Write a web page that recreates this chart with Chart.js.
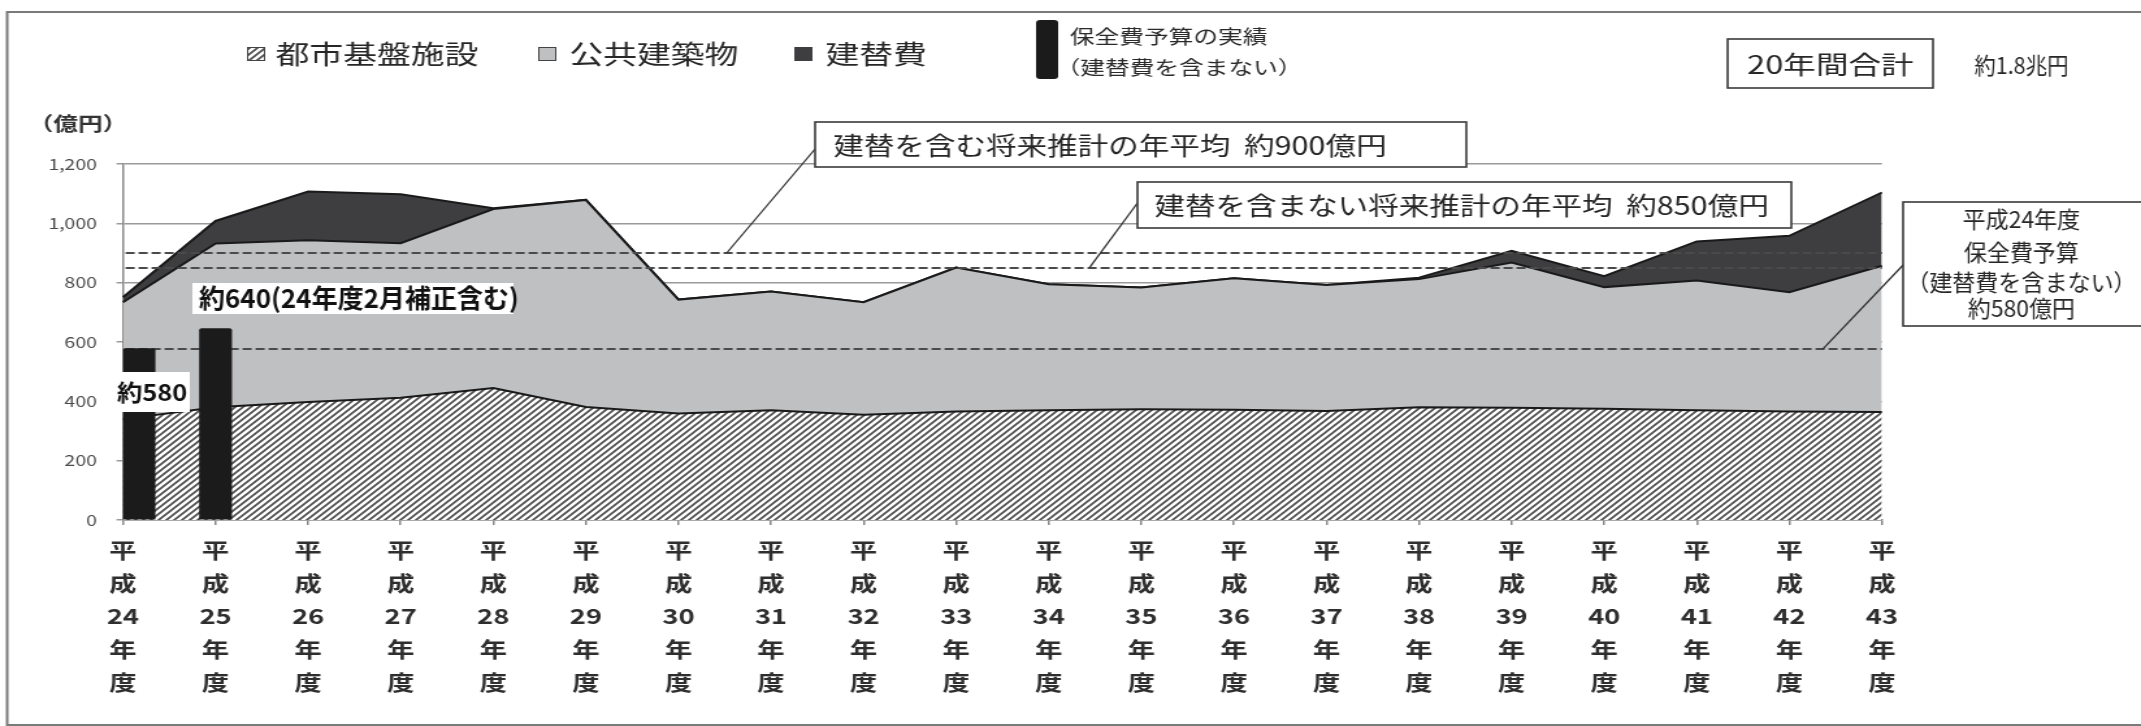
<!DOCTYPE html>
<html>
<head>
<meta charset="utf-8">
<script src="https://cdn.jsdelivr.net/npm/chart.js@4.4.1/dist/chart.umd.min.js"></script>
<style>
html,body{margin:0;padding:0;background:#fff;overflow:hidden}
canvas{display:block}
</style>
</head>
<body>
<canvas id="c" width="1647" height="726" style="width:2141px;height:726px"></canvas>
<script>
// ---- data ----
const categories = ['平成24年度','平成25年度','平成26年度','平成27年度','平成28年度','平成29年度','平成30年度','平成31年度','平成32年度','平成33年度',
                    '平成34年度','平成35年度','平成36年度','平成37年度','平成38年度','平成39年度','平成40年度','平成41年度','平成42年度','平成43年度'];
const seriesNames = ['都市基盤施設','公共建築物','建替費'];
const infrastructure   = [340, 380, 398, 412, 445, 381, 359, 370, 355, 366, 370, 373, 372, 367, 380, 378, 375, 370, 366, 364];
const publicBuildings  = [394, 552, 545, 521, 603, 698, 384, 400, 379, 485, 425, 411, 443, 425, 432, 490, 410, 437, 402, 493];
const replacement      = [17, 76, 164, 165, 3, 0, 0, 0, 0, 0, 0, 0, 0, 0, 5, 39, 37, 132, 190, 247];
const budgetActual     = [578, 645];          // 平成24年度, 平成25年度 実績
const budgetLabels     = ['約580', '約640(24年度2月補正含む)'];
const referenceLevels  = [900, 850, 575];     // 建替含む平均, 建替含まない平均, 24年度保全費予算
const yTickValues      = [0, 200, 400, 600, 800, 1000, 1200];

// ---- styles ----
const FONT = '"Noto Sans CJK JP", "Noto Sans", sans-serif';
const GRAY = '#bfc0c2';
const DARK = '#3e3e40';
const BAR  = '#1b1b1b';

const cv = document.getElementById('c');
const ctx0 = cv.getContext('2d');
const tile = document.createElement('canvas');
tile.width = 6; tile.height = 6;
(function(){
  const g = tile.getContext('2d');
  g.fillStyle = '#ffffff'; g.fillRect(0,0,6,6);
  g.strokeStyle = '#4d4d4d'; g.lineWidth = 1.7;
  g.beginPath();
  g.moveTo(0,6); g.lineTo(6,0);
  g.moveTo(-1,1); g.lineTo(1,-1);
  g.moveTo(5,7); g.lineTo(7,5);
  g.stroke();
})();
const hatch = ctx0.createPattern(tile, 'repeat');

function txt(c, s, x, y, o) {
  c.save();
  c.font = `${o.weight || 'normal'} ${o.size}px ${FONT}`;
  c.fillStyle = o.color || '#262626';
  c.textAlign = o.align || 'left';
  c.textBaseline = 'middle';
  c.translate(x, y);
  c.scale(o.sx || 1, o.sy || 1);
  c.fillText(s, 0, 0);
  c.restore();
}
function box(c, x, y, w, h) {
  c.save();
  c.fillStyle = '#fff';
  c.fillRect(x, y, w, h);
  c.strokeStyle = '#3a3a3a';
  c.lineWidth = 1.6;
  c.strokeRect(x, y, w, h);
  c.restore();
}

const annotations = {
  id: 'annotations',
  beforeDraw(chart) {
    this._dashed = false;
    const c = chart.ctx;
    c.save();
    c.strokeStyle = '#7a7a7a';
    c.lineWidth = 2;
    c.strokeRect(5.5, 12, 1700, 713);
    c.restore();
  },
  beforeDatasetDraw(chart, args) {
    if (args.meta.type !== 'bar' || this._dashed) return;
    this._dashed = true;
    const c = chart.ctx, a = chart.chartArea, y = chart.scales.y;
    c.save();
    c.strokeStyle = '#4a4a4a';
    c.lineWidth = 2;
    c.setLineDash([7, 3]);
    referenceLevels.forEach(v => {
      const py = Math.round(y.getPixelForValue(v));
      c.beginPath(); c.moveTo(a.left + 2, py); c.lineTo(a.right, py); c.stroke();
    });
    c.restore();
  },
  afterDraw(chart) {
    const c = chart.ctx, y = chart.scales.y;
    // leader lines
    c.save();
    c.strokeStyle = '#333'; c.lineWidth = 1.3;
    [[627,149,559,referenceLevels[0]],[875,203,838,referenceLevels[1]],[1464,265,1402,referenceLevels[2]]].forEach(([x1,y1,x2,v]) => {
      c.beginPath(); c.moveTo(x1,y1); c.lineTo(x2, y.getPixelForValue(v)); c.stroke();
    });
    c.restore();

    // callout boxes
    box(c, 627, 122, 501, 45);
    txt(c, '建替を含む将来推計の年平均  約900億円', 641, 145, {size: 25, sx: 0.94});
    box(c, 875, 182, 503, 46);
    txt(c, '建替を含まない将来推計の年平均  約850億円', 888, 205, {size: 25, sx: 0.94});
    box(c, 1464, 202, 200, 124);
    ['平成24年度', '保全費予算', '（建替費を含まない）', '約580億円'].forEach((s, i) => {
      txt(c, s, 1555, [219, 252, 282, 308][i], {size: 23, sx: 0.77, align: 'center'});
    });

    // bar value labels
    c.save(); c.fillStyle = '#fff';
    c.fillRect(148, 283, 247, 31);
    c.fillRect(88.5, 372, 57.5, 40);
    c.restore();
    txt(c, budgetLabels[1], 153, 298.5, {size: 26, weight: 'bold', sx: 0.77, color: '#111'});
    txt(c, budgetLabels[0], 117, 392, {size: 23, weight: 'bold', sx: 0.85, color: '#111', align: 'center'});

    // y-axis unit
    txt(c, '（億円）', 22, 124, {size: 19, weight: 'bold', color: '#333'});

    // legend
    c.save();
    c.fillStyle = hatch; c.fillRect(190, 47, 14, 14);
    c.strokeStyle = '#444'; c.lineWidth = 1; c.strokeRect(190.5, 47.5, 13, 13);
    c.fillStyle = GRAY; c.fillRect(414, 47, 14, 14); c.strokeRect(414.5, 47.5, 13, 13);
    c.fillStyle = DARK; c.fillRect(611, 47, 14, 14);
    c.fillStyle = BAR;
    c.beginPath(); c.roundRect(797, 20, 17, 59, 3); c.fill();
    c.restore();
    txt(c, seriesNames[0], 212, 54, {size: 26});
    txt(c, seriesNames[1], 438, 54, {size: 26});
    txt(c, seriesNames[2], 635, 54, {size: 26});
    txt(c, '保全費予算の実績', 823, 37, {size: 19, color: '#2a2a2a'});
    txt(c, '（建替費を含まない）', 812, 68, {size: 19, color: '#2a2a2a'});

    // total
    box(c, 1329, 39, 158, 49);
    txt(c, '20年間合計', 1408, 64, {size: 25, align: 'center'});
    txt(c, '約1.8兆円', 1555, 65, {size: 23, sx: 0.72, align: 'center'});
  }
};

const barA = categories.map((_, i) => i === 0 ? budgetActual[0] : null);
const barB = categories.map((_, i) => i === 1 ? budgetActual[1] : null);
const lineStyle = {type: 'line', borderColor: '#1a1a1a', borderWidth: 2, pointRadius: 0, tension: 0, order: 10};

new Chart(cv, {
  type: 'line',
  data: {
    labels: categories.map(s => s.match(/^(平)(成)(\d+)(年)(度)$/).slice(1)),
    datasets: [
      {type: 'bar', label: '保全費予算の実績', data: barB, stack: 'b25', order: 1, skipNull: true,
       backgroundColor: BAR, barThickness: 24.6, borderRadius: 2},
      {type: 'bar', label: '保全費予算の実績', data: barA, stack: 'b24', order: 2,
       backgroundColor: BAR, barThickness: 24.6, borderRadius: 2},
      Object.assign({label: seriesNames[0], data: infrastructure, fill: 'origin', backgroundColor: hatch}, lineStyle),
      Object.assign({label: seriesNames[1], data: publicBuildings, fill: '-1', backgroundColor: GRAY}, lineStyle),
      Object.assign({label: seriesNames[2], data: replacement, fill: '-1', backgroundColor: DARK}, lineStyle)
    ]
  },
  options: {
    responsive: false,
    animation: false,
    devicePixelRatio: 1,
    layout: {padding: {left: 0, top: 164, right: 199.3, bottom: 0}},
    plugins: {legend: {display: false}, tooltip: {enabled: false}},
    scales: {
      x: {
        type: 'category',
        offset: false,
        grid: {offset: false, drawOnChartArea: false, drawTicks: true, tickLength: 5, color: '#888', lineWidth: 1.5},
        border: {display: true, color: '#888', width: 1.5},
        ticks: {autoSkip: false, maxRotation: 0, minRotation: 0, padding: 8.5, color: '#2e2e2e',
                font: {family: FONT, size: 21, weight: 'bold', lineHeight: 33/21}},
        afterFit(s) { s.height = 206; }
      },
      y: {
        stacked: true,
        min: yTickValues[0], max: yTickValues[yTickValues.length - 1],
        afterBuildTicks(s) { s.ticks = yTickValues.map(v => ({value: v})); },
        grid: {color: '#9a9a9a', lineWidth: 1.5, drawTicks: true, tickLength: 5},
        border: {display: true, color: '#888', width: 1.5},
        ticks: {padding: 15, color: '#4a4a4a', font: {family: FONT, size: 15},
                callback: v => v.toLocaleString('en-US')},
        afterFit(s) { s.width = 94.6; }
      }
    }
  },
  plugins: [annotations]
});
</script>
</body>
</html>
